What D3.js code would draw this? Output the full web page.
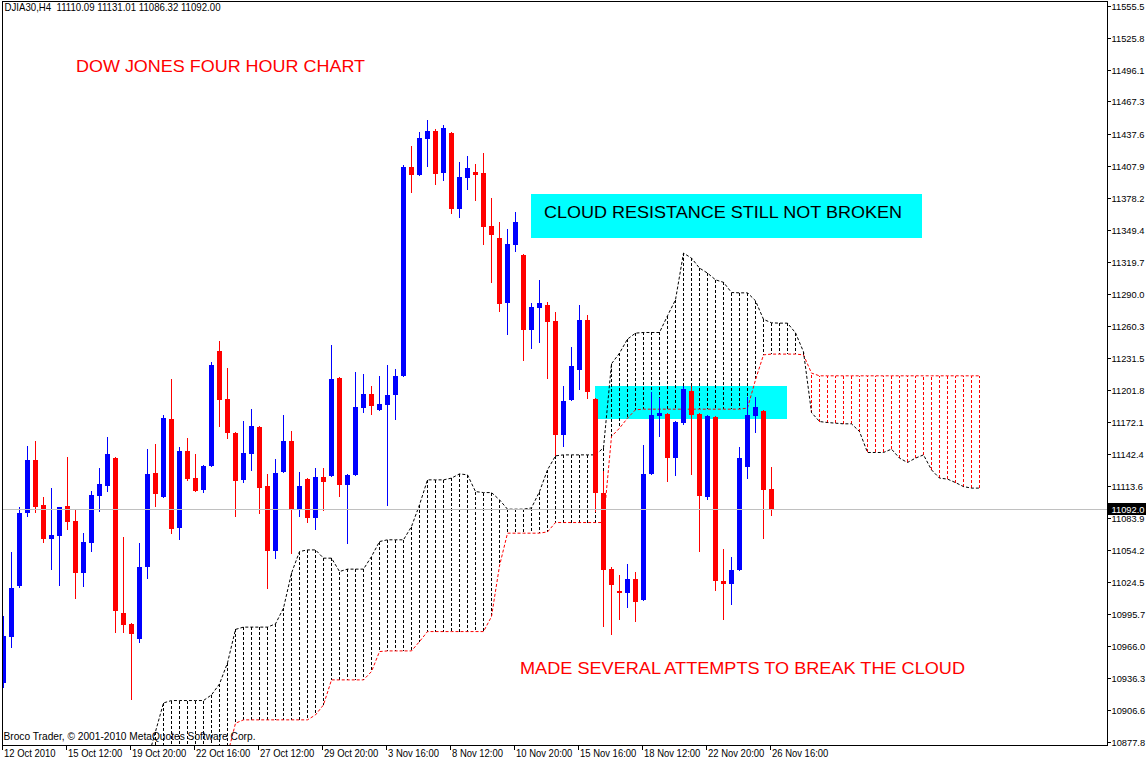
<!DOCTYPE html>
<html><head><meta charset="utf-8">
<script src="https://cdn.jsdelivr.net/npm/d3@7"></script>
<style>body{margin:0;background:#fff}svg{display:block}text{white-space:pre}</style>
</head><body>
<script>
const symbolInfo = "DJIA30,H4  11110.09 11131.01 11086.32 11092.00";
const copyright = "Broco Trader, \u00a9 2001-2010 MetaQuotes Software Corp.";
const title = "DOW JONES FOUR HOUR CHART";
const note1 = "CLOUD RESISTANCE STILL NOT BROKEN";
const note2 = "MADE SEVERAL ATTEMPTS TO BREAK THE CLOUD";

const opens = [10932.0,10974.6,11021.3,11088.8,11137.3,11095.9,11064.6,11067.3,11095.0,11081.2,
11033.3,11061.2,11104.2,11113.4,11139.2,10996.4,10986.3,10972.5,11038.8,11125.4,
11103.3,11175.1,11074.7,11145.6,11120.8,11109.7,11131.8,11237.7,11193.5,11162.2,
11118.9,11142.9,11167.7,11113.4,11053.5,11126.3,11154.8,11091.3,11119.8,11083.9,
11121.7,11122.6,11212.9,11114.3,11123.5,11185.2,11198.1,11183.4,11188.0,11197.2,
11214.7,11407.2,11399.8,11433.0,11440.3,11401.7,11438.5,11368.5,11397.1,11402.6,
11401.7,11352.9,11341.8,11281.9,11335.4,11326.1,11257.1,11277.3,11280.1,11265.4,
11160.4,11192.6,11220.2,11266.3,11193.5,11106.9,11037.0,11016.7,11014.8,11027.7,
11008.4,11124.4,11177.9,11179.7,11139.2,11171.4,11200.9,11179.7,11103.3,11176.9,
11025.9,11023.1,11036.0,11130.9,11177.9,11182.5,11110.09];
const highs = [10993.7,11052.6,11093.8,11150.2,11154.8,11103.3,11111.6,11094.1,11140.1,11092.2,
11070.1,11108.8,11130.0,11158.5,11140.0,11066.4,10986.8,11060.9,11147.5,11152.1,
11178.8,11211.9,11149.3,11157.6,11142.9,11132.2,11227.6,11246.9,11222.1,11162.6,
11173.3,11184.3,11168.2,11124.4,11138.3,11178.8,11164.1,11126.3,11120.8,11130.0,
11130.0,11243.3,11213.3,11124.4,11218.4,11216.5,11205.5,11214.7,11224.8,11221.2,
11409.0,11426.5,11439.4,11450.5,11442.2,11445.9,11439.0,11411.8,11417.3,11410.0,
11420.1,11378.6,11356.5,11350.1,11365.7,11326.5,11281.9,11303.1,11282.9,11273.6,
11205.5,11241.4,11280.1,11270.9,11194.0,11127.2,11038.8,11031.4,11041.6,11034.2,
11151.2,11200.0,11194.4,11180.2,11172.7,11205.5,11205.5,11180.2,11178.3,11177.3,
11055.4,11048.0,11149.6,11195.4,11195.4,11183.0,11131.01];
const lows = [10928.3,10965.4,11020.1,11086.0,11089.7,11062.1,11037.0,11022.2,11073.8,11010.2,
11021.3,11053.5,11090.4,11108.8,10978.9,10978.9,10917.2,10969.7,11028.7,11095.0,
11102.8,11070.1,11064.6,11118.9,11108.5,11107.9,11131.4,11168.7,11157.6,11085.8,
11117.1,11128.1,11088.5,11019.5,11047.1,11125.9,11051.7,11085.8,11080.2,11073.8,
11091.3,11122.2,11104.2,11060.9,11123.1,11181.5,11179.7,11183.0,11095.9,11175.1,
11214.3,11384.2,11399.4,11408.1,11391.5,11395.2,11364.8,11361.1,11386.9,11376.8,
11336.3,11301.3,11274.6,11253.4,11329.8,11229.4,11240.5,11246.0,11212.9,11141.9,
11150.2,11192.2,11202.7,11194.4,11090.4,10984.5,10977.1,10990.9,11002.0,10989.1,
11008.0,11124.0,11159.4,11118.0,11123.5,11170.5,11124.4,11053.5,11101.4,11017.6,
10990.9,11004.7,11035.6,11120.8,11163.1,11065.5,11086.32];
const closes = [10975.2,11019.5,11088.5,11137.3,11094.3,11064.6,11068.3,11094.1,11080.5,11033.3,
11061.8,11105.1,11115.2,11142.9,10998.3,10985.4,10977.1,11038.8,11124.4,11106.0,
11176.0,11073.8,11145.6,11119.8,11108.8,11131.8,11224.8,11192.6,11162.2,11118.0,
11143.8,11168.7,11111.6,11053.5,11125.4,11154.8,11092.2,11113.4,11083.9,11121.7,
11117.1,11211.9,11114.3,11123.5,11186.2,11198.1,11187.1,11188.9,11197.2,11214.7,
11407.2,11399.8,11433.9,11440.3,11400.7,11443.1,11368.5,11398.0,11406.3,11399.8,
11351.9,11344.6,11281.0,11336.3,11356.5,11257.1,11278.3,11281.9,11264.4,11160.4,
11191.7,11223.9,11266.3,11200.0,11106.9,11036.0,11022.2,11014.8,11027.7,11006.6,
11124.4,11178.8,11180.6,11139.2,11172.3,11202.7,11178.8,11104.2,11177.9,11025.9,
11023.1,11036.0,11139.2,11178.8,11186.2,11109.7,11092.00];

// Ichimoku cloud, first value belongs to bar index cloudStart (runs 26 bars past the last candle)
const cloudStart = 18;
const senkouA = [10861.0,10887.1,10913.5,10915.7,10915.7,10915.7,10915.7,10915.7,10920.9,10931.0,
10950.4,10981.2,10983.3,10983.3,10983.3,10983.3,10986.3,11000.8,11033.0,11052.9,
11054.4,11054.4,11046.8,11046.8,11034.5,11036.7,11036.7,11036.7,11048.3,11062.1,
11063.7,11063.7,11063.7,11075.9,11095.9,11118.9,11118.9,11118.9,11120.5,11124.4,
11123.5,11108.1,11107.2,11107.2,11100.5,11091.9,11091.9,11091.9,11093.1,11108.1,
11128.1,11141.0,11141.9,11141.9,11141.9,11141.9,11141.9,11148.4,11225.8,11235.6,
11248.5,11254.0,11254.6,11254.6,11254.6,11270.0,11284.7,11327.7,11323.1,11313.9,
11309.3,11303.1,11300.8,11291.4,11291.1,11291.1,11283.8,11266.7,11263.5,11263.2,
11263.2,11254.3,11236.8,11180.9,11172.6,11171.7,11171.1,11170.5,11170.5,11163.4,
11144.1,11144.1,11144.1,11147.2,11138.9,11134.9,11138.9,11141.9,11128.1,11120.5,
11119.6,11116.4,11112.7,11111.3,11111.3];
const senkouB = [10830.0,10830.0,10830.0,10830.0,10830.0,10830.0,10830.0,10830.0,10845.0,10845.0,
10865.6,10894.8,10897.9,10897.9,10897.9,10897.9,10897.9,10897.9,10897.9,10897.9,
10897.9,10902.5,10911.7,10934.7,10934.7,10934.7,10934.7,10934.7,10942.4,10960.8,
10961.4,10961.4,10961.4,10961.4,10970.0,10979.2,10979.2,10979.2,10979.2,10979.2,
10979.2,10979.2,10979.2,10993.0,11039.7,11069.8,11069.8,11069.8,11069.8,11069.8,
11071.0,11079.6,11079.6,11079.6,11079.6,11079.6,11079.6,11079.6,11158.8,11166.5,
11175.7,11183.4,11184.0,11184.0,11184.0,11184.0,11184.0,11184.0,11184.0,11184.0,
11184.0,11184.0,11184.0,11184.0,11184.0,11185.0,11211.0,11234.0,11234.7,11234.7,
11234.7,11234.7,11234.0,11217.2,11214.7,11214.7,11214.7,11214.7,11214.7,11214.7,
11214.7,11214.7,11214.7,11214.7,11214.7,11214.7,11214.7,11214.7,11214.7,11214.7,
11214.7,11214.7,11214.7,11214.7,11214.7];

const timeLabels = ["12 Oct 2010","15 Oct 12:00","19 Oct 20:00","22 Oct 16:00","27 Oct 12:00",
"29 Oct 20:00","3 Nov 16:00","8 Nov 12:00","10 Nov 20:00","15 Nov 16:00","18 Nov 12:00",
"22 Nov 20:00","26 Nov 16:00"];
const barsPerLabel = 8;
const priceTicks = [11555.5,11525.8,11496.1,11467.3,11437.6,11407.9,11378.2,11349.4,11319.7,11290.0,
11260.3,11231.5,11201.8,11172.1,11142.4,11113.6,11083.9,11054.2,11024.5,10995.7,10966.0,
10936.3,10906.6,10877.8];
const lastPrice = 11092.00;

const W = 1146, H = 762;
const UP = "#0000ff", DOWN = "#ff0000", CYAN = "#00ffff";
const AX = "'Liberation Sans', Arial, sans-serif";

const x = d3.scaleLinear().domain([0, 96]).range([3, 771]);
const y = d3.scaleLinear().domain([10877.8, 11555.5]).range([741.7, 5.7]);
const px = i => Math.round(x(i)) + 0.5;

const svg = d3.select("body").append("svg").attr("width", W).attr("height", H);
svg.append("rect").attr("width", W).attr("height", H).attr("fill", "#fff");
svg.append("defs").append("clipPath").attr("id", "clip")
  .append("rect").attr("x", 3).attr("y", 2).attr("width", 1104).attr("height", 743);
const plot = svg.append("g").attr("clip-path", "url(#clip)");

// background rectangles (drawn behind price)
const boxes = [
  {i0: 66, i1: 114.9, p0: 11382.3, p1: 11341.5},
  {i0: 74, i1: 98, p0: 11205.5, p1: 11175.1}
];
plot.selectAll("rect.box").data(boxes).join("rect").attr("class", "box")
  .attr("x", d => Math.round(x(d.i0))).attr("width", d => Math.round(x(d.i1)) - Math.round(x(d.i0)))
  .attr("y", d => Math.round(y(d.p0))).attr("height", d => Math.round(y(d.p1)) - Math.round(y(d.p0)))
  .attr("fill", CYAN);

// bid line
const by = Math.round(y(lastPrice)) + 0.5;
svg.append("line").attr("x1", 2).attr("x2", 1108).attr("y1", by).attr("y2", by)
  .attr("stroke", "#c0c0c0").attr("shape-rendering", "crispEdges");

// cloud
const cloud = senkouA.map((a, k) => ({i: cloudStart + k, a, b: senkouB[k]}));
plot.append("g").selectAll("line").data(cloud).join("line")
  .attr("x1", d => px(d.i)).attr("x2", d => px(d.i))
  .attr("y1", d => y(d.a)).attr("y2", d => y(d.b))
  .attr("stroke", d => d.a >= d.b ? "#000" : DOWN)
  .attr("stroke-dasharray", "3,2").attr("shape-rendering", "crispEdges");
plot.append("path").datum(cloud)
  .attr("d", d3.line().x(d => px(d.i)).y(d => y(d.b)))
  .attr("fill", "none").attr("stroke", DOWN).attr("stroke-dasharray", "3,2");
plot.append("path").datum(cloud)
  .attr("d", d3.line().x(d => px(d.i)).y(d => y(d.a)))
  .attr("fill", "none").attr("stroke", "#000").attr("stroke-dasharray", "3,2");

// candles
const bars = opens.map((o, i) => ({i, o, h: highs[i], l: lows[i], c: closes[i]}));
const cg = plot.append("g").attr("shape-rendering", "crispEdges");
cg.selectAll("line").data(bars).join("line")
  .attr("x1", d => px(d.i)).attr("x2", d => px(d.i))
  .attr("y1", d => Math.round(y(d.h))).attr("y2", d => Math.round(y(d.l)) + 1)
  .attr("stroke", d => d.c >= d.o ? UP : DOWN);
cg.selectAll("rect").data(bars).join("rect")
  .attr("x", d => Math.round(x(d.i)) - 2).attr("width", 5)
  .attr("y", d => Math.round(y(Math.max(d.o, d.c))))
  .attr("height", d => Math.max(1, Math.round(y(Math.min(d.o, d.c))) - Math.round(y(Math.max(d.o, d.c)))))
  .attr("fill", d => d.c >= d.o ? UP : DOWN);

// frame
svg.append("rect").attr("x", 2.5).attr("y", 1.5).attr("width", 1105).attr("height", 744)
  .attr("fill", "none").attr("stroke", "#000");

function narrow(sel, f) {
  sel.each(function () {
    const n = this.getComputedTextLength();
    this.setAttribute("textLength", (n * f).toFixed(1));
    this.setAttribute("lengthAdjust", "spacingAndGlyphs");
  });
}

// price axis
const ya = svg.append("g");
ya.selectAll("line").data(priceTicks).join("line")
  .attr("x1", 1108).attr("x2", 1111).attr("y1", d => Math.round(y(d)) + 0.5).attr("y2", d => Math.round(y(d)) + 0.5)
  .attr("stroke", "#000").attr("shape-rendering", "crispEdges");
ya.selectAll("text").data(priceTicks).join("text")
  .attr("x", 1111.5).attr("y", d => Math.round(y(d)) + 4)
  .attr("font-family", AX).attr("font-size", 9.3).attr("fill", "#000")
  .text(d => d.toFixed(1));

// last price label
svg.append("rect").attr("x", 1108).attr("y", by - 6.5).attr("width", 38).attr("height", 12).attr("fill", "#000");
svg.append("text").attr("x", 1111.5).attr("y", by + 3.5).attr("font-family", AX).attr("font-size", 9.3)
  .attr("fill", "#fff").text(lastPrice.toFixed(1));

// time axis
const ticksT = timeLabels.map((t, k) => ({t, i: k * barsPerLabel}));
const xa = svg.append("g");
xa.selectAll("line").data(ticksT).join("line")
  .attr("x1", d => px(d.i) - 1).attr("x2", d => px(d.i) - 1).attr("y1", 745).attr("y2", 750)
  .attr("stroke", "#000").attr("shape-rendering", "crispEdges");
xa.selectAll("text").data(ticksT).join("text")
  .attr("x", d => x(d.i) + 1).attr("y", 757)
  .attr("font-family", AX).attr("font-size", 11).attr("fill", "#000")
  .text(d => d.t).call(narrow, 0.86);

// header & copyright
svg.append("text").attr("x", 4.5).attr("y", 11).attr("font-family", AX).attr("font-size", 11)
  .attr("fill", "#000").attr("textLength", 216).attr("lengthAdjust", "spacingAndGlyphs").text(symbolInfo);
svg.append("text").attr("x", 3.5).attr("y", 740).attr("font-family", AX).attr("font-size", 11)
  .attr("fill", "#000").attr("textLength", 252).attr("lengthAdjust", "spacingAndGlyphs").text(copyright);

// annotations
const ann = [
  {t: title, x: 76, y: 71.5, len: 289, c: DOWN},
  {t: note1, x: 544, y: 218, len: 358, c: "#000"},
  {t: note2, x: 520, y: 674, len: 445, c: DOWN}
];
svg.selectAll("text.ann").data(ann).join("text").attr("class", "ann")
  .attr("x", d => d.x).attr("y", d => d.y).attr("fill", d => d.c)
  .attr("font-family", AX).attr("font-size", 17)
  .attr("textLength", d => d.len).attr("lengthAdjust", "spacingAndGlyphs")
  .text(d => d.t);
</script>
</body></html>
